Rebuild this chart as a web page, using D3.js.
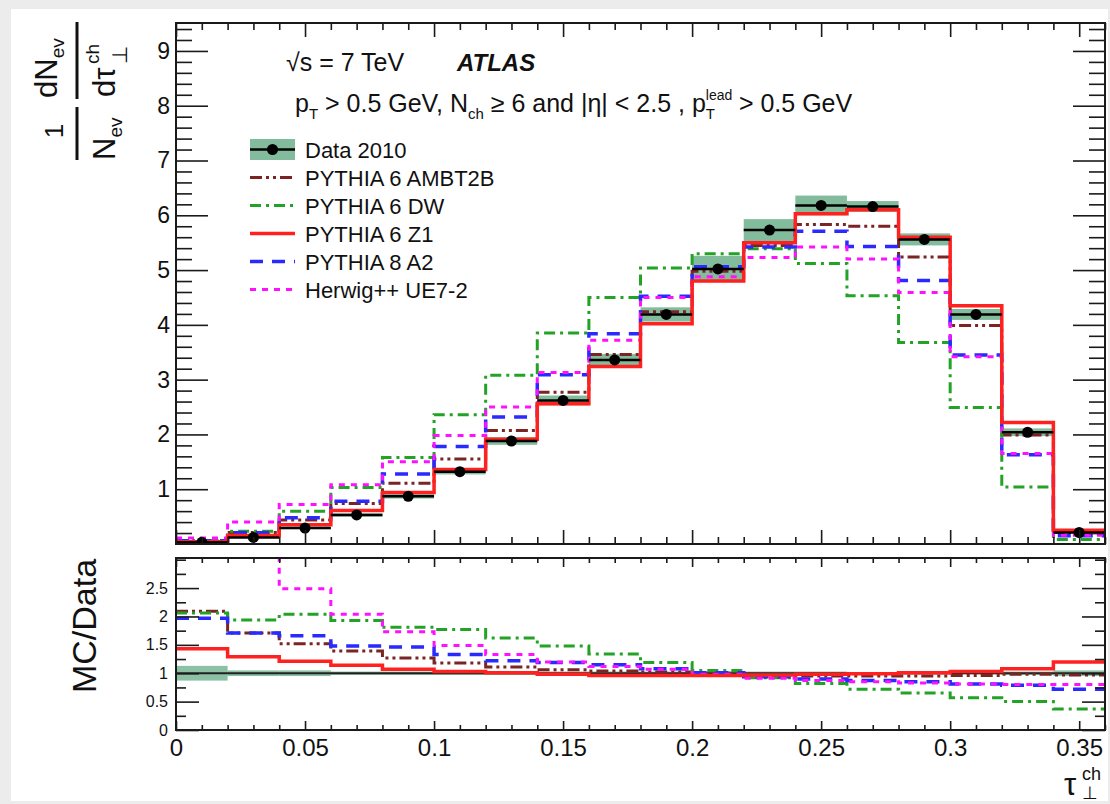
<!DOCTYPE html>
<html>
<head>
<meta charset="utf-8">
<script src="https://cdn.jsdelivr.net/npm/d3@7"></script>
<style>
html, body { margin: 0; padding: 0; background: #ececec; }
svg { display: block; }
text { font-family: "Liberation Sans", Arial, Helvetica, sans-serif; fill: #111; }
</style>
</head>
<body>
<svg id="chart" width="1110" height="804"></svg>
<script>
// bin edges of tau_perp^ch (18 bins of 0.02)
var binEdges = [0, 0.02, 0.04, 0.06, 0.08, 0.10, 0.12, 0.14, 0.16, 0.18,
                0.20, 0.22, 0.24, 0.26, 0.28, 0.30, 0.32, 0.34, 0.36];

// top panel: 1/N dN/dtau
var dataVals = [0.03, 0.12, 0.29, 0.53, 0.87, 1.32, 1.88, 2.62, 3.36, 4.19, 5.02, 5.73, 6.18, 6.16, 5.56, 4.19, 2.04, 0.21];
var dataErr  = [0.01, 0.01, 0.02, 0.03, 0.04, 0.05, 0.07, 0.09, 0.11, 0.13, 0.24, 0.2, 0.18, 0.1, 0.11, 0.1, 0.07, 0.02];
var ambt2b = [0.06, 0.21, 0.44, 0.74, 1.11, 1.55, 2.07, 2.77, 3.46, 4.24, 4.98, 5.45, 5.83, 5.8, 5.24, 3.99, 1.99, 0.21];
var dw     = [0.055, 0.235, 0.6, 1.03, 1.58, 2.36, 3.08, 3.85, 4.5, 5.04, 5.3, 5.39, 5.12, 4.53, 3.68, 2.49, 1.04, 0.08];
var z1     = [0.042, 0.157, 0.35, 0.61, 0.94, 1.36, 1.91, 2.56, 3.24, 4.02, 4.8, 5.5, 6.03, 6.1, 5.6, 4.35, 2.22, 0.25];
var a2     = [0.058, 0.205, 0.48, 0.78, 1.28, 1.78, 2.32, 3.09, 3.84, 4.52, 5.06, 5.42, 5.71, 5.43, 4.81, 3.45, 1.63, 0.15];
var herwig = [0.11, 0.4, 0.72, 1.08, 1.5, 1.98, 2.5, 3.13, 3.72, 4.5, 4.88, 5.23, 5.42, 5.2, 4.59, 3.42, 1.65, 0.16];

// bottom panel: MC/Data
var ratioBand   = [0.13, 0.05, 0.05, 0.03, 0.03, 0.03, 0.03, 0.03, 0.03, 0.03, 0.04, 0.03, 0.03, 0.02, 0.02, 0.02, 0.03, 0.05];
var ratioAmbt2b = [2.09, 1.71, 1.52, 1.39, 1.27, 1.18, 1.11, 1.06, 1.04, 1.02, 0.99, 0.96, 0.95, 0.95, 0.95, 0.96, 0.98, 0.97];
var ratioDw     = [2.06, 1.94, 2.04, 1.93, 1.81, 1.77, 1.62, 1.48, 1.34, 1.19, 1.05, 0.92, 0.82, 0.72, 0.65, 0.57, 0.5, 0.37];
var ratioZ1     = [1.43, 1.29, 1.21, 1.14, 1.07, 1.03, 1.01, 0.98, 0.96, 0.96, 0.96, 0.97, 0.98, 0.99, 1.01, 1.03, 1.08, 1.2];
var ratioA2     = [1.97, 1.71, 1.66, 1.48, 1.46, 1.33, 1.22, 1.19, 1.15, 1.08, 1.01, 0.94, 0.9, 0.87, 0.85, 0.81, 0.79, 0.72];
var ratioHerwig = [4.0, 3.5, 2.49, 2.04, 1.73, 1.49, 1.33, 1.2, 1.12, 1.07, 0.98, 0.91, 0.87, 0.85, 0.83, 0.81, 0.8, 0.8];

var topYTicks = [1, 2, 3, 4, 5, 6, 7, 8, 9];
var ratioYTicks = [0, 0.5, 1, 1.5, 2, 2.5];
var ratioYLabels = ["0", "0.5", "1", "1.5", "2", "2.5"];
var xTicks = [0, 0.05, 0.1, 0.15, 0.2, 0.25, 0.3, 0.35];
var xTickLabels = ["0", "0.05", "0.1", "0.15", "0.2", "0.25", "0.3", "0.35"];

var legendLabels = ["Data 2010", "PYTHIA 6 AMBT2B", "PYTHIA 6 DW", "PYTHIA 6 Z1", "PYTHIA 8 A2", "Herwig++ UE7-2"];

var series = [
  {name: legendLabels[1], top: ambt2b, ratio: ratioAmbt2b, color: "#7a2424", dash: "12,4,3,4,3,4", w: 3},
  {name: legendLabels[2], top: dw,     ratio: ratioDw,     color: "#22a326", dash: "11,5,3,5",     w: 3},
  {name: legendLabels[4], top: a2,     ratio: ratioA2,     color: "#2a2aff", dash: "13,9",         w: 3.5},
  {name: legendLabels[5], top: herwig, ratio: ratioHerwig, color: "#ff10ff", dash: "6,6",          w: 3},
  {name: legendLabels[3], top: z1,     ratio: ratioZ1,     color: "#ff2020", dash: null,           w: 3.5}
];

var svg = d3.select("#chart");
svg.append("rect").attr("x", 11).attr("y", 9).attr("width", 1097).attr("height", 792).attr("fill", "#fff");

var x = d3.scaleLinear().domain([0, 0.36]).range([176, 1105]);
var yTop = d3.scaleLinear().domain([0, 9.51]).range([544, 23]);
var yRat = d3.scaleLinear().domain([0, 3.03]).range([730, 558]);

var defs = svg.append("defs");
defs.append("clipPath").attr("id", "clipTop").append("rect")
    .attr("x", x(0)).attr("y", yTop(9.51)).attr("width", x(0.36) - x(0)).attr("height", yTop(0) - yTop(9.51));
defs.append("clipPath").attr("id", "clipRat").append("rect")
    .attr("x", x(0)).attr("y", yRat(3.03)).attr("width", x(0.36) - x(0)).attr("height", yRat(0) - yRat(3.03));

function stepPoints(vals) {
  var pts = vals.map(function(v, i) { return [binEdges[i], v]; });
  pts.push([binEdges[vals.length], vals[vals.length - 1]]);
  return pts;
}

var bins = dataVals.map(function(v, i) { return {lo: binEdges[i], hi: binEdges[i + 1], v: v, e: dataErr[i], rb: ratioBand[i]}; });

// ---- top panel ----
var gTop = svg.append("g").attr("clip-path", "url(#clipTop)");
gTop.selectAll("rect.band").data(bins).enter().append("rect")
    .attr("x", function(d) { return x(d.lo); })
    .attr("width", function(d) { return x(d.hi) - x(d.lo); })
    .attr("y", function(d) { return yTop(d.v + d.e); })
    .attr("height", function(d) { return yTop(d.v - d.e) - yTop(d.v + d.e); })
    .attr("fill", "#4f9f74").attr("fill-opacity", 0.7);

var lineTop = d3.line().curve(d3.curveStepAfter)
    .x(function(d) { return x(d[0]); })
    .y(function(d) { return yTop(d[1]); });

series.forEach(function(s) {
  gTop.append("path").datum(stepPoints(s.top))
      .attr("fill", "none").attr("stroke", s.color).attr("stroke-width", s.w)
      .attr("stroke-dasharray", s.dash)
      .attr("d", lineTop);
});

gTop.selectAll("line.herr").data(bins).enter().append("line")
    .attr("x1", function(d) { return x(d.lo); })
    .attr("x2", function(d) { return x(d.hi); })
    .attr("y1", function(d) { return yTop(d.v); })
    .attr("y2", function(d) { return yTop(d.v); })
    .attr("stroke", "#000").attr("stroke-width", 2.5);
gTop.selectAll("circle.pt").data(bins).enter().append("circle")
    .attr("cx", function(d) { return x((d.lo + d.hi) / 2); })
    .attr("cy", function(d) { return yTop(d.v); })
    .attr("r", 5.5).attr("fill", "#000");

// ---- ratio panel ----
var gRat = svg.append("g").attr("clip-path", "url(#clipRat)");
gRat.selectAll("rect.band").data(bins).enter().append("rect")
    .attr("x", function(d) { return x(d.lo); })
    .attr("width", function(d) { return x(d.hi) - x(d.lo); })
    .attr("y", function(d) { return yRat(1 + d.rb); })
    .attr("height", function(d) { return yRat(1 - d.rb) - yRat(1 + d.rb); })
    .attr("fill", "#4f9f74").attr("fill-opacity", 0.65);
gRat.append("line")
    .attr("x1", x(0)).attr("x2", x(0.36)).attr("y1", yRat(1)).attr("y2", yRat(1))
    .attr("stroke", "#222").attr("stroke-width", 2);

var lineRat = d3.line().curve(d3.curveStepAfter)
    .x(function(d) { return x(d[0]); })
    .y(function(d) { return yRat(d[1]); });
series.forEach(function(s) {
  gRat.append("path").datum(stepPoints(s.ratio))
      .attr("fill", "none").attr("stroke", s.color).attr("stroke-width", s.w)
      .attr("stroke-dasharray", s.dash)
      .attr("d", lineRat);
});

// ---- axes (ROOT style, ticks inside) ----
function drawAxis(gen, vals, size, tr, labels, fs, pad) {
  gen.tickValues(vals).tickSize(size).tickPadding(pad || 0)
     .tickFormat(labels ? function(d, i) { return labels[i]; } : "");
  var g = svg.append("g").attr("transform", tr).call(gen);
  g.select(".domain").remove();
  g.attr("font-family", "Liberation Sans, Arial, sans-serif").attr("font-size", fs || 10).attr("color", "#1a1a1a");
  g.selectAll(".tick line").attr("stroke-width", 1.6);
  return g;
}
function minor(step, lo, hi, skip) {
  return d3.range(lo, hi + 1e-9, step).filter(function(v) {
    return !skip.some(function(m) { return Math.abs(m - v) < 1e-6; });
  });
}

var topMinor = minor(0.2, 0, 9.51, topYTicks.concat([0]));
var xMinor = minor(0.01, 0, 0.36, xTicks);
var ratMinor = minor(0.25, 0, 3.0, ratioYTicks);

drawAxis(d3.axisLeft(yTop), topYTicks, -32, "translate(" + x(0) + ",0)", topYTicks.map(String), 23, 6);
drawAxis(d3.axisLeft(yTop), topMinor, -16, "translate(" + x(0) + ",0)");
drawAxis(d3.axisRight(yTop), topYTicks, -32, "translate(" + x(0.36) + ",0)");
drawAxis(d3.axisRight(yTop), topMinor, -16, "translate(" + x(0.36) + ",0)");
drawAxis(d3.axisBottom(x), xTicks, -14, "translate(0," + yTop(0) + ")");
drawAxis(d3.axisBottom(x), xMinor, -7, "translate(0," + yTop(0) + ")");
drawAxis(d3.axisTop(x), xTicks, -14, "translate(0," + yTop(9.51) + ")");
drawAxis(d3.axisTop(x), xMinor, -7, "translate(0," + yTop(9.51) + ")");

drawAxis(d3.axisLeft(yRat), ratioYTicks, -23, "translate(" + x(0) + ",0)", ratioYLabels, 16, 8);
drawAxis(d3.axisLeft(yRat), ratMinor, -10, "translate(" + x(0) + ",0)");
drawAxis(d3.axisRight(yRat), ratioYTicks, -23, "translate(" + x(0.36) + ",0)");
drawAxis(d3.axisRight(yRat), ratMinor, -10, "translate(" + x(0.36) + ",0)");
drawAxis(d3.axisBottom(x), xTicks, -9, "translate(0," + yRat(0) + ")", xTickLabels, 24, 9);
drawAxis(d3.axisBottom(x), xMinor, -5, "translate(0," + yRat(0) + ")");
drawAxis(d3.axisTop(x), xTicks, -9, "translate(0," + yRat(3.03) + ")");
drawAxis(d3.axisTop(x), xMinor, -5, "translate(0," + yRat(3.03) + ")");

// frames
[[yTop(9.51), yTop(0)], [yRat(3.03), yRat(0)]].forEach(function(p) {
  svg.append("rect").attr("x", x(0)).attr("y", p[0])
     .attr("width", x(0.36) - x(0)).attr("height", p[1] - p[0])
     .attr("fill", "none").attr("stroke", "#1a1a1a").attr("stroke-width", 2);
});

// ---- annotations ----
svg.append("text").attr("x", 286).attr("y", 71).attr("font-size", 25).text("\u221As = 7 TeV");
svg.append("text").attr("x", 457).attr("y", 71).attr("font-size", 24)
   .attr("font-weight", "bold").attr("font-style", "italic").text("ATLAS");

var cut = svg.append("text").attr("x", 295).attr("y", 112).attr("font-size", 25);
cut.append("tspan").text("p");
cut.append("tspan").attr("dy", 7).attr("font-size", 15).text("T");
cut.append("tspan").attr("dy", -7).text(" > 0.5 GeV, N");
cut.append("tspan").attr("dy", 7).attr("font-size", 15).text("ch");
cut.append("tspan").attr("dy", -7).text(" \u2265 6 and |\u03B7| < 2.5 , p");
cut.append("tspan").attr("dy", -12).attr("font-size", 14).text("lead");
cut.append("tspan").attr("dx", -26.5).attr("dy", 19).attr("font-size", 15).text("T");
cut.append("tspan").attr("dx", 17).attr("dy", -7).text(" > 0.5 GeV");

// legend
var legY = d3.scaleLinear().domain([0, 1]).range([149.5, 177.5]);
var leg = svg.append("g");
leg.append("rect").attr("x", 250).attr("y", legY(0) - 10.5).attr("width", 45).attr("height", 21)
   .attr("fill", "#4f9f74").attr("fill-opacity", 0.7);
leg.append("line").attr("x1", 250).attr("x2", 295).attr("y1", legY(0)).attr("y2", legY(0))
   .attr("stroke", "#000").attr("stroke-width", 2.5);
leg.append("circle").attr("cx", 272.5).attr("cy", legY(0)).attr("r", 5.5).attr("fill", "#000");
var legOrder = [series[0], series[1], series[4], series[2], series[3]];
legOrder.forEach(function(s, i) {
  leg.append("line").attr("x1", 250).attr("x2", 295).attr("y1", legY(i + 1)).attr("y2", legY(i + 1))
     .attr("stroke", s.color).attr("stroke-width", s.w).attr("stroke-dasharray", s.dash);
});
legendLabels.forEach(function(t, i) {
  leg.append("text").attr("x", 305).attr("y", legY(i) + 8).attr("font-size", 22).text(t);
});

// y title top (rotated fractions)
var yt = svg.append("g").attr("transform", "translate(77,0) rotate(-90)");
yt.append("text").attr("x", -131).attr("y", -14).attr("font-size", 26).attr("text-anchor", "middle").text("1");
yt.append("line").attr("x1", -160).attr("x2", -107).attr("y1", 0).attr("y2", 0).attr("stroke", "#111").attr("stroke-width", 3);
var nev = yt.append("text").attr("x", -160).attr("y", 38).attr("font-size", 31);
nev.append("tspan").text("N");
nev.append("tspan").attr("dy", 7).attr("font-size", 19).text("ev");
var dnev = yt.append("text").attr("x", -98).attr("y", -20).attr("font-size", 31);
dnev.append("tspan").text("dN");
dnev.append("tspan").attr("dy", 7).attr("font-size", 19).text("ev");
yt.append("line").attr("x1", -99).attr("x2", -22).attr("y1", 0).attr("y2", 0).attr("stroke", "#111").attr("stroke-width", 3);
yt.append("text").attr("x", -97).attr("y", 38).attr("font-size", 31).text("d\u03C4");
yt.append("text").attr("x", -64).attr("y", 22).attr("font-size", 19).text("ch");
yt.append("text").attr("x", -64).attr("y", 50).attr("font-size", 21).text("\u22A5");

// y title ratio
svg.append("text").attr("transform", "translate(96,626) rotate(-90)")
   .attr("text-anchor", "middle").attr("font-size", 34).text("MC/Data");

// x title
svg.append("text").attr("x", 1064).attr("y", 795).attr("font-size", 31).text("\u03C4");
svg.append("text").attr("x", 1082).attr("y", 780).attr("font-size", 18).text("ch");
svg.append("text").attr("x", 1082).attr("y", 799).attr("font-size", 18).text("\u22A5");
</script>
</body>
</html>
